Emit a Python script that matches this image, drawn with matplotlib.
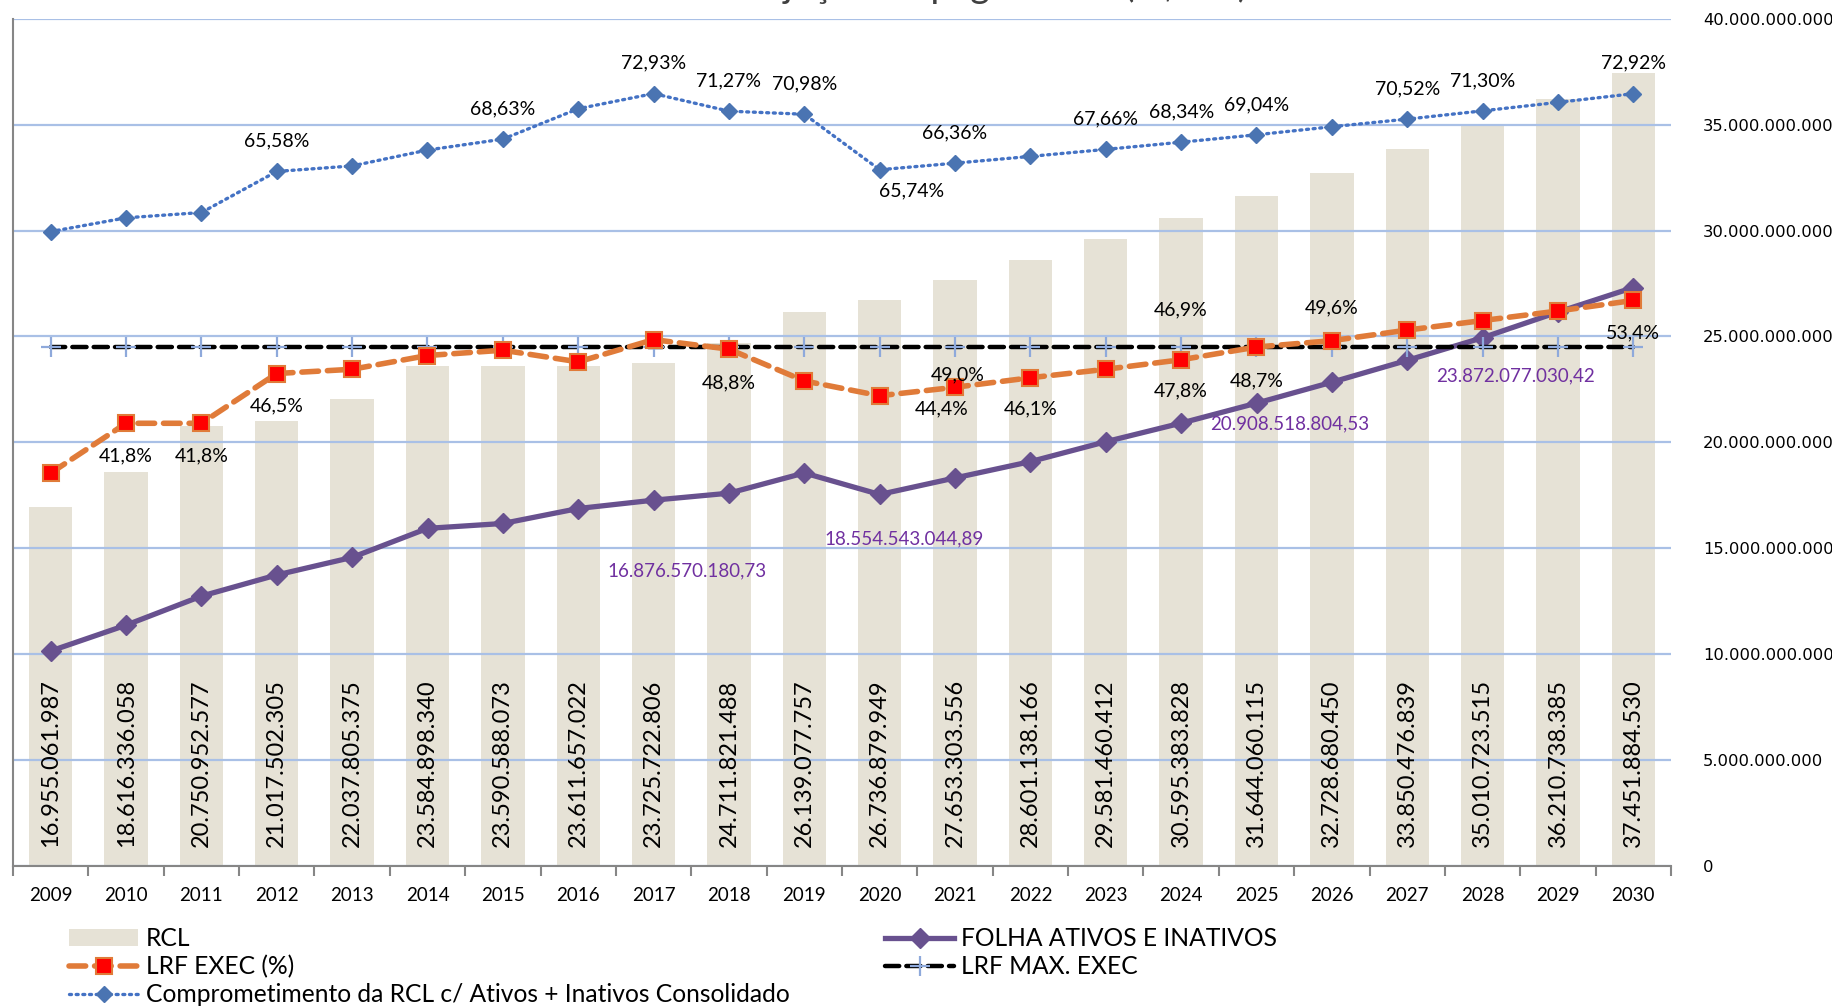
import matplotlib
matplotlib.use("Agg")
import matplotlib.pyplot as plt
from matplotlib.ticker import FixedLocator, FuncFormatter

# ---- dados ----
years = [str(y) for y in range(2009, 2031)]

rcl = [16955061987, 18616336058, 20750952577, 21017502305, 22037805375,
       23584898340, 23590588073, 23611657022, 23725722806, 24711821488,
       26139077757, 26736879949, 27653303556, 28601138166, 29581460412,
       30595383828, 31644060115, 32728680450, 33850476839, 35010723515,
       36210738385, 37451884530]

folha = [10.15e9, 11.37e9, 12.74e9, 13.74e9, 14.57e9, 15.94e9, 16.17e9,
         16876570180.73, 17.27e9, 17.60e9, 18554543044.89, 17.54e9, 18.32e9,
         19.09e9, 20.03e9, 20908518804.53, 21.85e9, 22.84e9, 23872077030.42,
         24.94e9, 26.15e9, 27.31e9]

lrf_exec = [37.1, 41.8, 41.8, 46.5, 46.9, 48.2, 48.7, 47.6, 49.7, 48.8, 45.8,
            44.4, 45.2, 46.1, 46.9, 47.8, 49.0, 49.6, 50.6, 51.5, 52.4, 53.4]

lrf_max = [49.0] * 22

comprometimento = [59.9, 61.2, 61.7, 65.58, 66.1, 67.6, 68.63, 71.5, 72.93,
                   71.27, 70.98, 65.74, 66.36, 67.0, 67.66, 68.34, 69.04, 69.8,
                   70.52, 71.30, 72.1, 72.92]

comp_label_idx = [3, 6, 8, 9, 10, 11, 12, 14, 15, 16, 18, 19, 21]
lrf_label_txt = ["41,8%", "41,8%", "46,5%", "48,8%", "44,4%", "49,0%",
                 "46,1%", "46,9%", "47,8%", "48,7%", "49,6%", "53,4%"]
lrf_label_idx = [1, 2, 3, 9, 11, 12, 13, 15, 15, 16, 17, 21]
folha_label_idx = [7, 10, 15, 18]

# deslocamentos dos rótulos (px da imagem reduzida, y para baixo)
comp_off = {11: (27, 18)}
lrf_off = [(0, 28), (0, 28), (0, 28), (0, 29), (53, 11), (2, -11),
           (0, 27), (0, -43), (0, 27), (0, 29), (0, -28), (0, 28)]
folha_off = [(93, 53), (85, 56), (93, 1), (93, 13)]
PT = 0.841  # px reduzido -> pt


def br_num(v, dec=0):
    s = f"{v:,.{dec}f}"
    return s.replace(",", "#").replace(".", ",").replace("#", ".")


plt.rcParams["font.family"] = ["Lato", "DejaVu Sans"]

fig = plt.figure(figsize=(18.32, 10.07), dpi=100)
ax = fig.add_axes([13 / 1832, 1 - 866 / 1007, (1671 - 13) / 1832, (866 - 18.7) / 1007])
x = list(range(len(years)))

# ---- eixo secundário (percentuais) ----
ax2 = ax.twinx()
ax2.set_ylim(0, 80)
ax2.set_yticks([])
for s in ax2.spines.values():
    s.set_visible(False)

bars = ax.bar(x, rcl, width=0.575, color="#E6E2D6", zorder=1, label="RCL")
for i, v in enumerate(rcl):
    ax.annotate(br_num(v), (i, 0), xytext=(0, 14), textcoords="offset points",
                rotation=90, ha="center", va="bottom", fontsize=17, color="black",
                zorder=3)

l_folha, = ax.plot(x, folha, color="#68518F", lw=3.8, marker="D", markersize=10,
                   zorder=4, label="FOLHA ATIVOS E INATIVOS")
for k, i in enumerate(folha_label_idx):
    dx, dy = folha_off[k]
    ax.annotate(br_num(folha[i], 2), (i, folha[i]), xytext=(dx * PT, -dy * PT),
                textcoords="offset points", ha="center", va="center",
                fontsize=13.5, color="#7030A0", zorder=6)

ax.set_xlim(-0.5, 21.5)
ax.set_ylim(0, 40e9)
ax.yaxis.tick_right()
ax.yaxis.set_major_locator(FixedLocator([i * 5e9 for i in range(9)]))
ax.yaxis.set_major_formatter(FuncFormatter(lambda v, p: br_num(v)))
ax.tick_params(axis="y", length=0, pad=23, labelsize=11.8)
for lab in ax.get_yticklabels():
    lab.set_fontfamily("DejaVu Sans")
ax.set_xticks(x)
ax.set_xticklabels(years, fontsize=13.5)
ax.set_xticks([i - 0.5 for i in range(len(years) + 1)], minor=True)
ax.tick_params(axis="x", which="major", length=0, pad=15)
ax.tick_params(axis="x", which="minor", length=7, width=1.5, color="#868686")
ax.grid(axis="y", color="#A9C0E6", lw=1.6)
ax.set_axisbelow("line")
for s in ["top", "right"]:
    ax.spines[s].set_visible(False)
for s in ["left", "bottom"]:
    ax.spines[s].set_color("#868686")
    ax.spines[s].set_linewidth(1.5)

l_max, = ax2.plot(x, lrf_max, color="black", lw=3.2, dashes=(3.2, 1.6),
                  dash_capstyle="round", marker="+", markersize=15,
                  markeredgewidth=1.6, markeredgecolor="#8EA9DB",
                  label="LRF MAX. EXEC", zorder=2)
l_exec, = ax2.plot(x, lrf_exec, color="#E07B39", lw=4, dashes=(3.0, 1.6),
                   dash_capstyle="round", marker="s", markersize=11,
                   markerfacecolor="#FF0000", markeredgecolor="#E07B39",
                   markeredgewidth=1.5, label="LRF EXEC (%)", zorder=3)
l_comp, = ax2.plot(x, comprometimento, color="#4472C4", lw=2.4, dashes=(0.6, 1.4),
                   dash_capstyle="round", marker="D", markersize=8,
                   markerfacecolor="#4A74B2", markeredgecolor="#4A74B2",
                   label="Comprometimento da RCL c/ Ativos + Inativos Consolidado",
                   zorder=4)

for i in comp_label_idx:
    dx, dy = comp_off.get(i, (0, -26))
    ax2.annotate(br_num(comprometimento[i], 2) + "%", (i, comprometimento[i]),
                 xytext=(dx * PT, -dy * PT), textcoords="offset points",
                 ha="center", va="center", fontsize=14, color="black")

for k, i in enumerate(lrf_label_idx):
    dx, dy = lrf_off[k]
    ax2.annotate(lrf_label_txt[k], (i, lrf_exec[i]), xytext=(dx * PT, -dy * PT),
                 textcoords="offset points", ha="center", va="center",
                 fontsize=14, color="black")

# título (cortado no topo da imagem original)
fig.text(987 / 1832, 1.003, "Projeção de pagamento (R$ mil)", ha="center",
         va="baseline", fontsize=27, color="#404040")

fig.legend([bars, l_exec, l_comp, l_folha, l_max],
           ["RCL", "LRF EXEC (%)",
            "Comprometimento da RCL c/ Ativos + Inativos Consolidado",
            "FOLHA ATIVOS E INATIVOS", "LRF MAX. EXEC"],
           ncol=2, loc="upper left", bbox_to_anchor=(0.0325, 0.089),
           frameon=False, fontsize=17.7, handlelength=2.8, handletextpad=0.3,
           columnspacing=3.9, labelspacing=0.2, borderaxespad=0)

fig.savefig("out.png", dpi=100)
